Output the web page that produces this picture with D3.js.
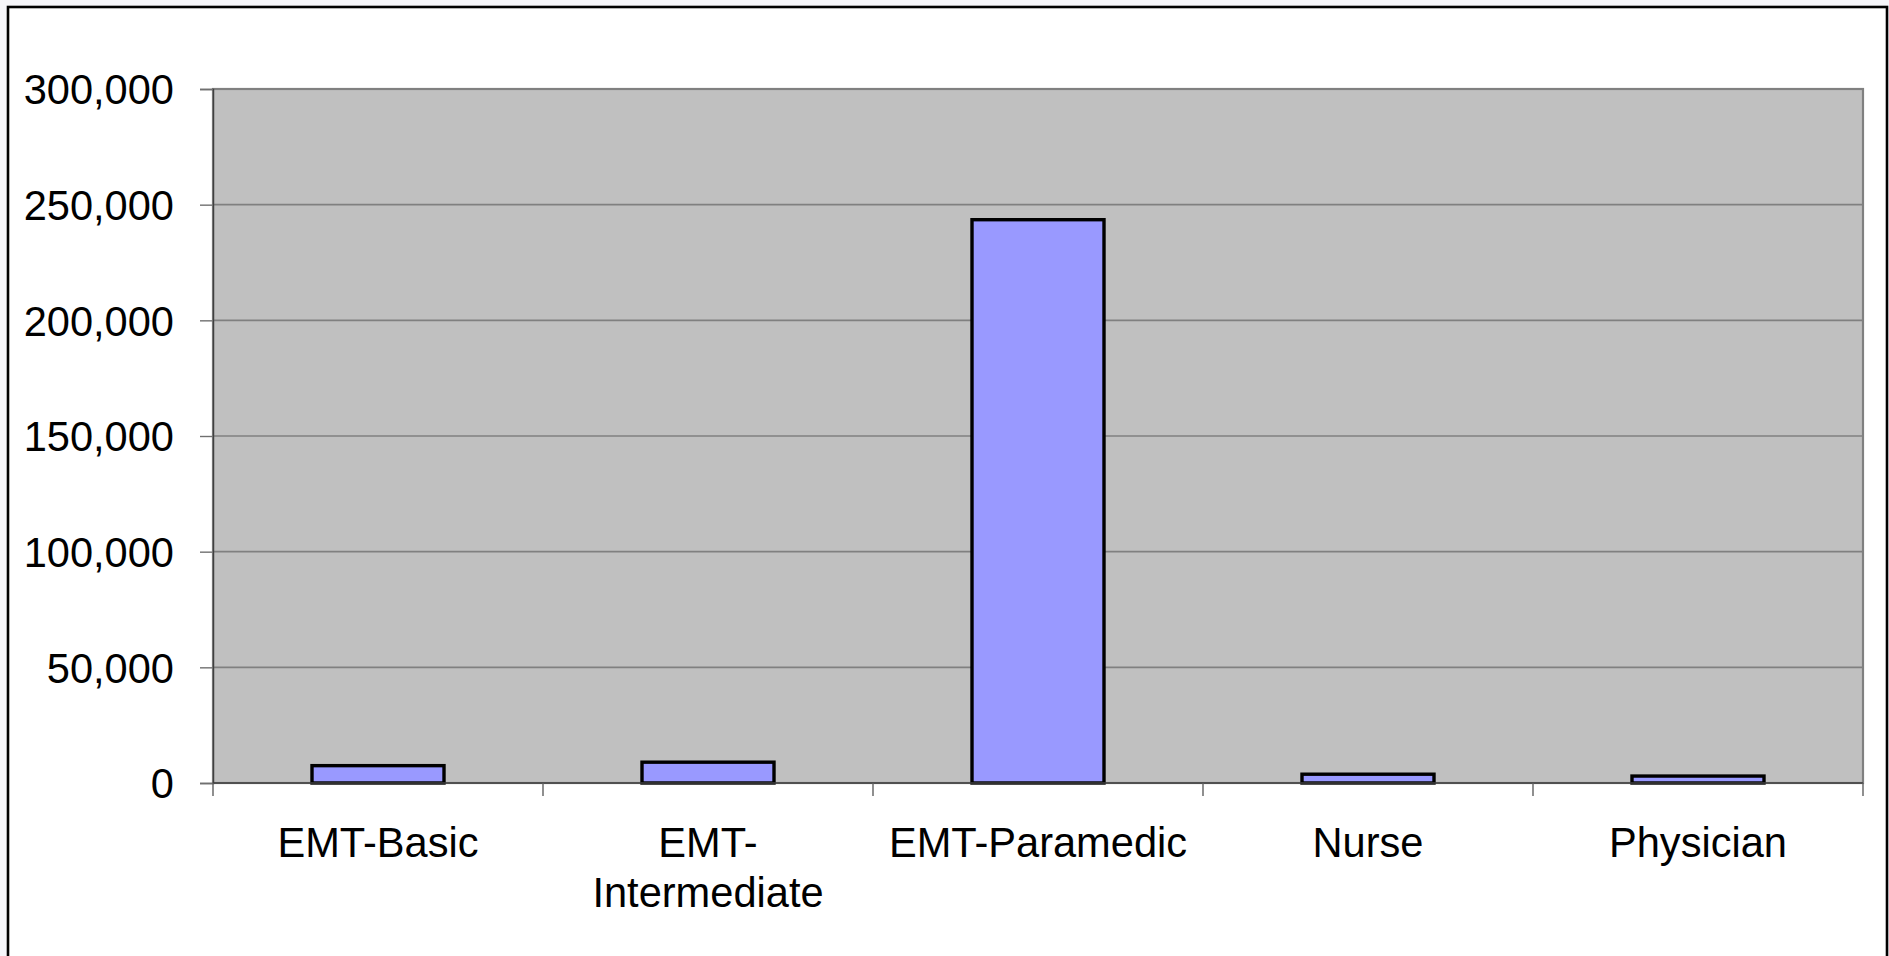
<!DOCTYPE html>
<html>
<head>
<meta charset="utf-8">
<script src="https://cdn.jsdelivr.net/npm/d3@7"></script>
<style>
  html, body { margin: 0; padding: 0; background: #f6f6fa; overflow: hidden; }
  svg { display: block; }
  text { font-family: "Liberation Sans", Arial, sans-serif; fill: #000; }
</style>
</head>
<body>
<svg id="chart" width="1889" height="956"></svg>
<script>
// ---- data ----
const categories = ["EMT-Basic", "EMT-Intermediate", "EMT-Paramedic", "Nurse", "Physician"];
const values = [7500, 9000, 243500, 3800, 3000];
const yTicks = [0, 50000, 100000, 150000, 200000, 250000, 300000];

// ---- layout ----
const W = 1889, H = 956;
const plot = { left: 213, right: 1863, top: 89, bottom: 783 };
const fontSize = 41.6;

const svg = d3.select("#chart");

// outer chart frame
svg.append("rect")
  .attr("x", 8).attr("y", 7)
  .attr("width", 1879).attr("height", 1000)
  .attr("fill", "#ffffff")
  .attr("stroke", "#000").attr("stroke-width", 2.6);

const x = d3.scaleBand()
  .domain(categories)
  .range([plot.left, plot.right])
  .paddingInner(0.6)
  .paddingOuter(0.3);

const y = d3.scaleLinear()
  .domain([0, 300000])
  .range([plot.bottom, plot.top]);

// plot background
svg.append("rect")
  .attr("x", plot.left).attr("y", plot.top)
  .attr("width", plot.right - plot.left)
  .attr("height", plot.bottom - plot.top)
  .attr("fill", "#c0c0c0")
  .attr("stroke", "#808080").attr("stroke-width", 2.2);

// gridlines
svg.append("g")
  .selectAll("line")
  .data(yTicks.filter(d => d > 0 && d < 300000))
  .join("line")
  .attr("x1", plot.left).attr("x2", plot.right)
  .attr("y1", d => y(d)).attr("y2", d => y(d))
  .attr("stroke", "#808080").attr("stroke-width", 1.6);

// y axis
const yAxis = svg.append("g")
  .attr("transform", `translate(${plot.left},0)`)
  .call(d3.axisLeft(y).tickValues(yTicks).tickFormat(d3.format(",")).tickSize(13).tickPadding(26));
yAxis.select(".domain").attr("stroke", "#404040").attr("stroke-width", 1.4);
yAxis.selectAll(".tick line").attr("stroke", "#707070").attr("stroke-width", 1.4);
yAxis.selectAll(".tick text")
  .attr("font-size", fontSize)
  .attr("font-family", "'Liberation Sans', Arial, sans-serif")
  .attr("fill", "#000")
  .attr("dy", "0.36em");

// bars
svg.append("g")
  .selectAll("rect")
  .data(categories.map((c, i) => ({ c, v: values[i] })))
  .join("rect")
  .attr("x", d => x(d.c))
  .attr("y", d => y(d.v))
  .attr("width", x.bandwidth())
  .attr("height", d => y(0) - y(d.v))
  .attr("fill", "#9999ff")
  .attr("stroke", "#000").attr("stroke-width", 3.4);

// x axis baseline
svg.append("line")
  .attr("x1", plot.left).attr("x2", plot.right)
  .attr("y1", y(0)).attr("y2", y(0))
  .attr("stroke", "#404040").attr("stroke-width", 1.5);

// x ticks at category boundaries
const boundaries = d3.range(categories.length + 1).map(i => x.range()[0] + i * x.step());
svg.append("g")
  .selectAll("line")
  .data(boundaries)
  .join("line")
  .attr("x1", d => d).attr("x2", d => d)
  .attr("y1", y(0)).attr("y2", y(0) + 13)
  .attr("stroke", "#606060").attr("stroke-width", 1.4);

// x labels with wrapping
const labels = svg.append("g")
  .selectAll("text")
  .data(categories)
  .join("text")
  .attr("x", d => x(d) + x.bandwidth() / 2)
  .attr("y", 857)
  .attr("text-anchor", "middle")
  .attr("font-size", fontSize)
  .text(d => d);

labels.each(function(d) {
  const t = d3.select(this);
  if (this.getComputedTextLength() > x.step() * 0.92 && d.indexOf("-") >= 0) {
    const k = d.indexOf("-") + 1;
    const parts = [d.slice(0, k), d.slice(k)];
    const cx = +t.attr("x");
    t.text(null);
    parts.forEach((p, i) => {
      t.append("tspan").attr("x", cx).attr("dy", i === 0 ? 0 : "1.21em").text(p);
    });
  }
});
</script>
</body>
</html>
